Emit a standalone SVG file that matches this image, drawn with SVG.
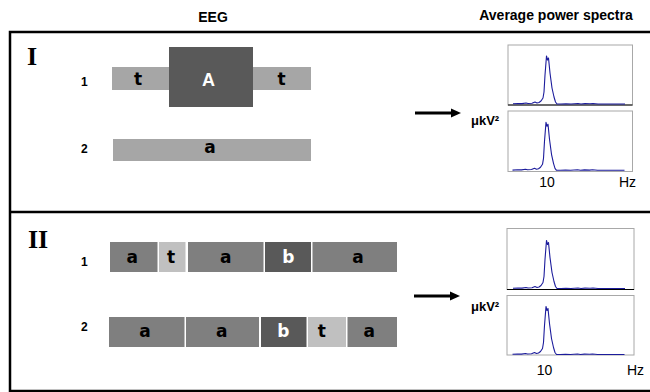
<svg xmlns="http://www.w3.org/2000/svg" xmlns:xlink="http://www.w3.org/1999/xlink" width="650" height="392" viewBox="0 0 650 392">
<style>
.hdr{font-family:"Liberation Sans",Arial,sans-serif;font-weight:bold;font-size:14px;fill:#000}
.roman{font-family:"Liberation Serif","Times New Roman",serif;font-weight:bold;font-size:26px;fill:#000}
.num{font-family:"Liberation Sans",Arial,sans-serif;font-weight:bold;font-size:12px;fill:#000}
.seg{font-family:"DejaVu Sans",Verdana,sans-serif;font-weight:bold;font-size:17px;text-anchor:middle;fill:#000}
.segw{font-family:"DejaVu Sans",Verdana,sans-serif;font-weight:bold;font-size:17px;text-anchor:middle;fill:#fff}
.segA{font-family:"Liberation Sans",Arial,sans-serif;font-weight:bold;font-size:18px;text-anchor:middle;fill:#fff}
.unit{font-family:"Liberation Sans",Arial,sans-serif;font-weight:bold;font-size:13px;fill:#000}
.axis{font-family:"Liberation Sans",Arial,sans-serif;font-size:14px;fill:#000}
.lt{fill:#a6a6a6}.lt2{fill:#c0c0c0}.md{fill:#7f7f7f}.dk{fill:#595959}
.box{fill:#fff;stroke:#a8a8a8;stroke-width:1}
.curve{fill:none;stroke:#1c1c9c;stroke-width:1.1;stroke-linejoin:round}
.frame{fill:none;stroke:#000;stroke-width:2.5}
.arr{stroke:#000;stroke-width:3}
</style>
<defs>
<path id="spec" class="curve" d="M5,58.8 L10,58.5 L14,58.6 L18,58 L20,58.5 L24,58.2 L27,57 L29,58 L31,57.5 L33,56 L35,53 L36,47 L37,30 L38.5,11 L39.5,15 L40.5,13 L42,28 L44,43 L46,52 L47.5,57 L49,59 L53,59 L58,58.7 L63,59 L70,58.5 L73,59 L77,58.6 L82,58.8 L85,58.5 L90,59 L117,59"/>
</defs>

<g id="frame">
<rect class="frame" x="10" y="32" width="650" height="359"/>
<line class="frame" x1="10" y1="212" x2="650" y2="212"/>
</g>

<g id="headers">
<text class="hdr" x="213" y="22" text-anchor="middle">EEG</text>
<text class="hdr" x="556" y="20" text-anchor="middle">Average power spectra</text>
</g>

<g id="panel-I">
<text class="roman" x="27" y="65">I</text>
<text class="num" x="81" y="86">1</text>
<text class="num" x="81" y="153">2</text>
<g id="I1-t1"><rect class="lt" x="112" y="67" width="58" height="23"/><text class="seg" x="138" y="85">t</text></g>
<g id="I1-A"><rect class="dk" x="169" y="47" width="84" height="60"/><text class="segA" x="208.5" y="86">A</text></g>
<g id="I1-t2"><rect class="lt" x="253" y="67" width="58" height="23"/><text class="seg" x="281.5" y="85">t</text></g>
<g id="I2-a"><rect class="lt" x="113" y="139" width="198" height="22"/><text class="seg" x="210" y="153">a</text></g>
</g>

<g id="panel-II">
<text class="roman" x="28" y="248">II</text>
<text class="num" x="81" y="266">1</text>
<text class="num" x="81" y="331">2</text>
<g id="II1-a1"><rect class="md" x="110" y="242" width="47.5" height="30"/><text class="seg" x="132.3" y="263">a</text></g>
<g id="II1-t"><rect class="lt2" x="159" y="242" width="26.5" height="30"/><text class="seg" x="171" y="263">t</text></g>
<g id="II1-a2"><rect class="md" x="188" y="242" width="75.5" height="30"/><text class="seg" x="225.7" y="263">a</text></g>
<g id="II1-b"><rect class="dk" x="265" y="242" width="46" height="30"/><text class="segw" x="288.3" y="263">b</text></g>
<g id="II1-a3"><rect class="md" x="312.5" y="242" width="84.5" height="30"/><text class="seg" x="358" y="263">a</text></g>
<g id="II2-a1"><rect class="md" x="109" y="317" width="75.5" height="30"/><text class="seg" x="145" y="337">a</text></g>
<g id="II2-a2"><rect class="md" x="186" y="317" width="73" height="30"/><text class="seg" x="221.7" y="337">a</text></g>
<g id="II2-b"><rect class="dk" x="261" y="317" width="45.5" height="30"/><text class="segw" x="283.3" y="337">b</text></g>
<g id="II2-t"><rect class="lt2" x="308" y="317" width="38" height="30"/><text class="seg" x="321.7" y="337">t</text></g>
<g id="II2-a3"><rect class="md" x="347.5" y="317" width="49.5" height="30"/><text class="seg" x="369.3" y="337">a</text></g>
</g>

<g id="connectors">
<line class="arr" x1="415" y1="113" x2="452" y2="113"/>
<polygon points="461,113 451,108.5 451,117.5" fill="#000"/>
<line class="arr" x1="414" y1="296" x2="451" y2="296"/>
<polygon points="460,296 450,291.5 450,300.5" fill="#000"/>
</g>

<g id="spectra-I">
<text class="unit" x="471" y="125">μkV²</text>
<g transform="translate(508,45)"><rect class="box" x="0" y="0" width="124.5" height="60"/><line x1="0" y1="60" x2="124.5" y2="60" stroke="#000" stroke-width="1"/><use xlink:href="#spec"/></g>
<g transform="translate(508,111)"><rect class="box" x="0" y="0" width="124.5" height="60.5"/><use xlink:href="#spec" transform="translate(-0.5,0.3)"/></g>
<text class="axis" x="547" y="187" text-anchor="middle">10</text>
<text class="axis" x="619" y="187">Hz</text>
</g>

<g id="spectra-II">
<text class="unit" x="471" y="311">μkV²</text>
<g transform="translate(507,228.5)"><rect class="box" x="0" y="0" width="127" height="61"/><line x1="0" y1="61" x2="127" y2="61" stroke="#000" stroke-width="1"/><use xlink:href="#spec" transform="translate(1,1)"/></g>
<g transform="translate(507,295.5)"><rect class="box" x="0" y="0" width="127" height="59.5"/><use xlink:href="#spec" transform="translate(0.5,0)"/></g>
<text class="axis" x="544.5" y="375" text-anchor="middle">10</text>
<text class="axis" x="627" y="375">Hz</text>
</g>
</svg>
